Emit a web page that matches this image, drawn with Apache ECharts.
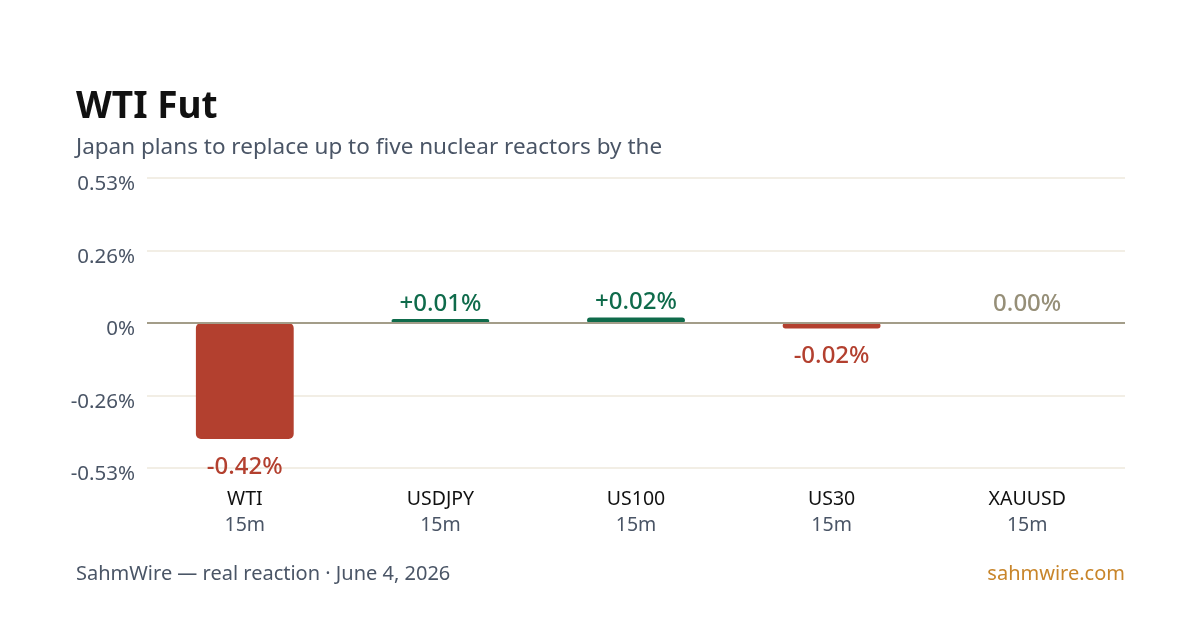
<!DOCTYPE html>
<html>
<head>
<meta charset="utf-8">
<script src="https://cdn.jsdelivr.net/npm/echarts@6/dist/echarts.min.js"></script>
<style>
  html, body { margin: 0; padding: 0; background: #fff; }
  #main { width: 1200px; height: 630px; }
</style>
</head>
<body>
<div id="main"></div>
<script>
const symbols = ['WTI', 'USDJPY', 'US100', 'US30', 'XAUUSD'];
const windows = ['15m', '15m', '15m', '15m', '15m'];
const moves = [-0.42, 0.01, 0.02, -0.02, 0.00];
const tickLabels = ['-0.53%', '-0.26%', '0%', '0.26%', '0.53%'];

const chart = echarts.init(document.getElementById('main'));
const font = '"Noto Sans", "Open Sans", sans-serif';

// Colour by sign of the move
function colorFor(v) {
  if (v > 0) return '#0f6b4b';
  if (v < 0) return '#b3402f';
  return '#968f78';
}

function fmt(v) {
  if (v === 0) return '0.00%';
  return (v > 0 ? '+' : '') + v.toFixed(2) + '%';
}

const barData = moves.map(v => ({
  value: v,
  itemStyle: {
    color: v === 0 ? 'rgba(0,0,0,0)' : colorFor(v),
    borderRadius: 5
  },
  label: {
    show: true,
    position: v < 0 ? 'bottom' : 'top',
    distance: v < 0 ? 16 : 3,
    formatter: fmt(v),
    color: colorFor(v),
    fontSize: 24,
    fontWeight: 500,
    fontFamily: font
  }
}));

const options = {
  backgroundColor: '#ffffff',
  animation: false,
  title: [
    {
      text: 'WTI Fut',
      left: 71, top: 84,
      textStyle: { fontSize: 37, fontWeight: 'bold', color: '#111111', fontFamily: font }
    },
    {
      text: 'Japan plans to replace up to five nuclear reactors by the',
      left: 71, top: 131,
      textStyle: { fontSize: 22.5, fontWeight: 'normal', color: '#4a5566', fontFamily: font }
    },
    {
      text: 'SahmWire — real reaction · June 4, 2026',
      left: 71, top: 559,
      textStyle: { fontSize: 20, fontWeight: 'normal', color: '#4a5566', fontFamily: font }
    },
    {
      text: 'sahmwire.com',
      right: 70, top: 559,
      textStyle: { fontSize: 20, fontWeight: 'normal', color: '#c8852a', fontFamily: font }
    }
  ],
  grid: { left: 147, right: 75, top: 178, bottom: 162 },
  xAxis: {
    type: 'category',
    data: symbols,
    axisLine: { show: false, onZero: false },
    axisTick: { show: false },
    axisLabel: {
      margin: 18,
      formatter: (val, i) => '{a|' + val + '}\n{b|' + windows[i] + '}',
      rich: {
        a: { fontSize: 19.5, color: '#111111', fontFamily: font, lineHeight: 26 },
        b: { fontSize: 19.5, color: '#4a5566', fontFamily: font, lineHeight: 26 }
      }
    }
  },
  yAxis: {
    type: 'value',
    min: -0.525,
    max: 0.525,
    interval: 0.2625,
    axisLine: { show: false },
    axisTick: { show: false },
    splitLine: { lineStyle: { color: '#eee9dd', width: 1.5 } },
    axisLabel: {
      margin: 12,
      fontSize: 20.5,
      color: '#4a5566',
      fontFamily: font,
      verticalAlign: 'top',
      lineHeight: 13,
      formatter: v => tickLabels[Math.round(v / 0.2625) + 2]
    }
  },
  series: [{
    type: 'bar',
    data: barData,
    barWidth: '50%',
    barMinHeight: 4,
    markLine: {
      silent: true,
      symbol: 'none',
      label: { show: false },
      lineStyle: { color: '#a39d89', width: 2, type: 'solid' },
      data: [{ yAxis: 0 }]
    }
  }]
};

chart.setOption(options);
</script>
</body>
</html>
